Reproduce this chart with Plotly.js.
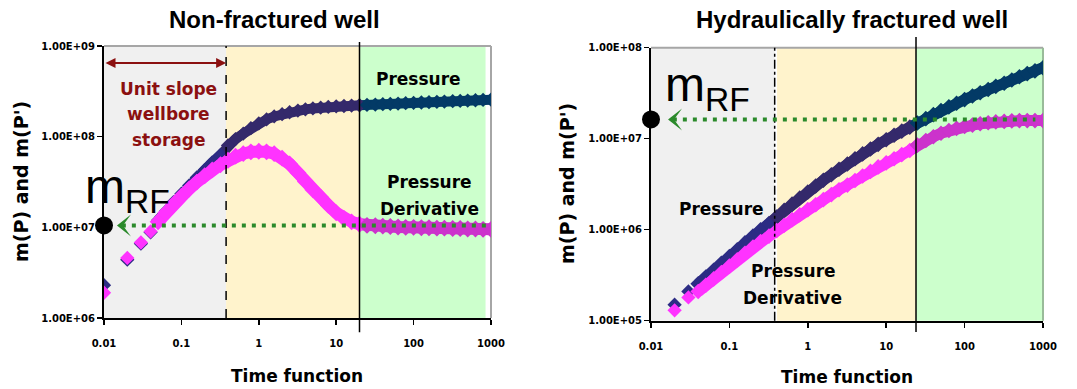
<!DOCTYPE html>
<html>
<head>
<meta charset="utf-8">
<script src="https://cdn.plot.ly/plotly-3.0.1.min.js"></script>
<style>
  html, body { margin: 0; padding: 0; background: #fff; }
  #chart { width: 1077px; height: 389px; }
</style>
</head>
<body>
<div id="chart"></div>
<script>
// ---- Axis ticks ----
const timeTicks = [0.01, 0.1, 1, 10, 100, 1000];
const timeTickText = ['0.01', '0.1', '1', '10', '100', '1000'];
const nfTicks = [1e6, 1e7, 1e8, 1e9];
const nfTickText = ['1.00E+06', '1.00E+07', '1.00E+08', '1.00E+09'];
const hfTicks = [1e5, 1e6, 1e7, 1e8];
const hfTickText = ['1.00E+05', '1.00E+06', '1.00E+07', '1.00E+08'];

// ---- Non-fractured well ----
const nfTimeEarly = [0.01, 0.02, 0.03, 0.04];
const nfPressureEarly = [2.3e6, 4.4e6, 6.6e6, 8.8e6];
const nfDerivativeEarly = [1.9e6, 4.6e6, 6.8e6, 9.0e6];
const nfTime = [0.05, 0.063, 0.079, 0.1, 0.126, 0.158, 0.2, 0.25, 0.32, 0.4, 0.5, 0.63, 0.79,
  1, 1.26, 1.58, 2, 2.5, 3.2, 4, 5, 6.3, 7.9,
  10, 12.6, 15.8, 20, 25, 32, 40, 50, 63, 79,
  100, 126, 158, 200, 250, 320, 400, 500, 630, 790, 1000];
const nfPressure = [1.2e7, 1.5e7, 1.9e7, 2.35e7, 2.9e7, 3.55e7, 4.3e7, 5.2e7, 6.3e7, 8.0e7, 9.4e7, 1.08e8, 1.24e8,
  1.4e8, 1.55e8, 1.67e8, 1.77e8, 1.86e8, 1.94e8, 2.0e8, 2.05e8, 2.09e8, 2.13e8,
  2.16e8, 2.18e8, 2.2e8, 2.22e8, 2.24e8, 2.26e8, 2.28e8, 2.3e8, 2.32e8, 2.34e8,
  2.36e8, 2.38e8, 2.4e8, 2.42e8, 2.44e8, 2.46e8, 2.48e8, 2.5e8, 2.52e8, 2.54e8, 2.56e8];
const nfDerivative = [1.15e7, 1.45e7, 1.8e7, 2.2e7, 2.65e7, 3.15e7, 3.7e7, 4.3e7, 4.9e7, 5.5e7, 6.1e7, 6.5e7, 6.8e7,
  6.9e7, 6.8e7, 6.5e7, 5.8e7, 5.0e7, 4.0e7, 3.2e7, 2.6e7, 2.15e7, 1.75e7,
  1.45e7, 1.25e7, 1.15e7, 1.08e7, 1.05e7, 1.04e7, 1.03e7, 1.02e7, 1.01e7, 1.0e7,
  1.0e7, 9.9e6, 9.9e6, 9.8e6, 9.8e6, 9.7e6, 9.7e6, 9.6e6, 9.6e6, 9.5e6, 9.5e6];
const nfMrf = 1.05e7;
const nfStorageEnd = 0.378;
const nfRadialStart = 20;

// ---- Hydraulically fractured well ----
const hfTimeEarly = [0.02, 0.03];
const hfPressureEarly = [1.5e5, 2.1e5];
const hfDerivativeEarly = [1.3e5, 1.8e5];
const hfTime = [0.04, 0.05, 0.063, 0.079, 0.1, 0.126, 0.158, 0.2, 0.25, 0.32, 0.4, 0.5, 0.63, 0.79,
  1, 1.26, 1.58, 2, 2.5, 3.2, 4, 5, 6.3, 7.9,
  10, 12.6, 15.8, 20, 25, 32, 40, 50, 63, 79,
  100, 126, 158, 200, 250, 320, 400, 500, 630, 790, 1000];
const hfPressure = [2.54e5, 3.02e5, 3.59e5, 4.27e5, 5.07e5, 6.03e5, 7.16e5, 8.51e5, 1.0e6, 1.17e6, 1.38e6, 1.63e6, 1.91e6, 2.23e6,
  2.6e6, 3.02e6, 3.49e6, 4.02e6, 4.61e6, 5.27e6, 6.01e6, 6.81e6, 7.71e6, 8.67e6,
  9.73e6, 1.09e7, 1.21e7, 1.34e7, 1.49e7, 1.66e7, 1.84e7, 2.04e7, 2.24e7, 2.45e7,
  2.69e7, 2.95e7, 3.2e7, 3.47e7, 3.76e7, 4.07e7, 4.42e7, 4.79e7, 5.19e7, 5.56e7, 6.03e7];
const hfDerivative = [2.09e5, 2.45e5, 2.88e5, 3.39e5, 3.98e5, 4.68e5, 5.5e5, 6.46e5, 7.41e5, 8.51e5, 9.77e5, 1.12e6, 1.29e6, 1.46e6,
  1.66e6, 1.88e6, 2.14e6, 2.43e6, 2.75e6, 3.09e6, 3.47e6, 3.89e6, 4.37e6, 4.9e6,
  5.43e6, 6.03e6, 6.68e6, 7.41e6, 8.51e6, 9.55e6, 1.05e7, 1.15e7, 1.23e7, 1.3e7,
  1.36e7, 1.41e7, 1.46e7, 1.5e7, 1.53e7, 1.55e7, 1.57e7, 1.58e7, 1.58e7, 1.58e7, 1.58e7];
const hfMrf = 1.63e7;
const hfStorageEnd = 0.378;
const hfRadialStart = 24;

// ---- Page geometry helpers (pixels -> paper fractions) ----
const W = 1077, H = 389;
const px = x => x / W;
const py = y => 1 - y / H;
const lg = Math.log10;

const LABEL_FONT = 'DejaVu Sans';
const ARIAL = 'Liberation Sans, Arial, sans-serif';
const DOT_GREEN = '#2b8a2b';
const PRESSURE_COLORS = ['#2c2c84', '#34296b', '#033a66'];
const DERIV_COLORS = ['#ff33ff', '#ff33ff', '#cc33cc'];

const charts = [
  {
    xa: 'x', ya: 'y', box: {l: 104, r: 491, t: 46, b: 318}, yRange: [6, 9],
    ticks: nfTicks, tickText: nfTickText,
    tEarly: nfTimeEarly, pEarly: nfPressureEarly, dEarly: nfDerivativeEarly,
    t: nfTime, p: nfPressure, d: nfDerivative,
    mrf: nfMrf, storageEnd: nfStorageEnd, radialStart: nfRadialStart,
    yellowFrom: nfStorageEnd, greenTo: 850, storageDash: 'dash',
    lineAbove: 1.015, lineBelow: -0.052, borderRight: '#a6a6a6',
    arrowTip: 0.0147, dotsFrom: 0.017, dotsTo: 950,
    pSize: 11, pWidth: 10, dSize: 13, dWidth: 12
  },
  {
    xa: 'x2', ya: 'y2', box: {l: 651, r: 1043, t: 47.7, b: 320.7}, yRange: [5, 8],
    ticks: hfTicks, tickText: hfTickText,
    tEarly: hfTimeEarly, pEarly: hfPressureEarly, dEarly: hfDerivativeEarly,
    t: hfTime, p: hfPressure, d: hfDerivative,
    mrf: hfMrf, storageEnd: hfStorageEnd, radialStart: hfRadialStart,
    yellowFrom: 0.405, greenTo: 1000, storageDash: 'dashdot',
    lineAbove: 1.039, lineBelow: -0.041, borderRight: '#99bb99',
    arrowTip: 0.0165, dotsFrom: 0.019, dotsTo: 800,
    pSize: 12, pWidth: 11, dSize: 12, dWidth: 11
  }
];

function axisX(c) {
  return {
    type: 'log', range: [-2, 3], domain: [px(c.box.l), px(c.box.r)], anchor: c.ya,
    showline: true, linecolor: '#000', linewidth: 2,
    ticks: 'outside', ticklen: 5, tickwidth: 1.5, tickcolor: '#000',
    tickmode: 'array', tickvals: timeTicks, ticktext: timeTickText,
    tickfont: {family: LABEL_FONT, size: 10, color: '#000', weight: 'bold'},
    ticklabelstandoff: 10,
    showgrid: false, zeroline: false, fixedrange: true
  };
}
function axisY(c) {
  return {
    type: 'log', range: c.yRange, domain: [py(c.box.b), py(c.box.t)], anchor: c.xa,
    showline: true, linecolor: '#000', linewidth: 2,
    ticks: 'outside', ticklen: 5, tickwidth: 1.5, tickcolor: '#000',
    tickmode: 'array', tickvals: c.ticks, ticktext: c.tickText,
    tickfont: {family: LABEL_FONT, size: 10, color: '#000', weight: 'bold'},
    showgrid: false, zeroline: false, fixedrange: true
  };
}

// One series: connecting band per flow region plus a diamond at every reading
function seriesTraces(c, t, v, palette, size, width) {
  const region = x => (x <= c.storageEnd ? 0 : (x <= c.radialStart ? 1 : 2));
  const groups = [0, 1, 2].map(() => ({x: [], y: []}));
  t.forEach((x, i) => {
    const r = region(x);
    if (i > 0 && region(t[i - 1]) !== r && groups[r].x.length === 0) {
      groups[r].x.push(t[i - 1]); groups[r].y.push(v[i - 1]);
    }
    groups[r].x.push(x); groups[r].y.push(v[i]);
  });
  const out = [];
  groups.forEach((g, r) => {
    if (g.x.length > 1) {
      out.push({type: 'scatter', mode: 'lines', x: g.x, y: g.y, xaxis: c.xa, yaxis: c.ya,
        line: {color: palette[r], width: width}, hoverinfo: 'skip', showlegend: false});
    }
  });
  out.push({type: 'scatter', mode: 'markers', x: t, y: v, xaxis: c.xa, yaxis: c.ya,
    marker: {symbol: 'diamond', size: size, color: t.map(x => palette[region(x)]), line: {width: 0}},
    hoverinfo: 'skip', showlegend: false});
  return out;
}

const data = [];
const shapes = [];
const annotations = [];

charts.forEach(c => {
  // early, well separated readings
  data.push({type: 'scatter', mode: 'markers', x: c.tEarly, y: c.pEarly, xaxis: c.xa, yaxis: c.ya,
    marker: {symbol: 'diamond', size: 11, color: PRESSURE_COLORS[0]}, hoverinfo: 'skip', showlegend: false});
  data.push(...seriesTraces(c, c.t, c.p, PRESSURE_COLORS, c.pSize, c.pWidth));
  data.push({type: 'scatter', mode: 'markers', x: c.tEarly, y: c.dEarly, xaxis: c.xa, yaxis: c.ya,
    marker: {symbol: 'diamond', size: 11, color: DERIV_COLORS[0]}, hoverinfo: 'skip', showlegend: false});
  data.push(...seriesTraces(c, c.t, c.d, DERIV_COLORS, c.dSize, c.dWidth));
  // m_RF read on the axis
  data.push({type: 'scatter', mode: 'markers', x: [0.01], y: [c.mrf], xaxis: c.xa, yaxis: c.ya,
    cliponaxis: false, marker: {symbol: 'circle', size: 18, color: '#000'}, hoverinfo: 'skip', showlegend: false});

  const yd = c.ya + ' domain';
  const xd = c.xa + ' domain';
  // flow-regime shading
  shapes.push({type: 'rect', layer: 'below', xref: c.xa, yref: yd, x0: 0.01, x1: c.storageEnd, y0: 0, y1: 1,
    fillcolor: '#f0f0f0', line: {width: 0}});
  shapes.push({type: 'rect', layer: 'below', xref: c.xa, yref: yd, x0: c.yellowFrom, x1: c.radialStart, y0: 0, y1: 1,
    fillcolor: '#fff3cc', line: {width: 0}});
  shapes.push({type: 'rect', layer: 'below', xref: c.xa, yref: yd, x0: c.radialStart, x1: c.greenTo, y0: 0, y1: 1,
    fillcolor: '#ccffcc', line: {width: 0}});
  // plot frame (top and right)
  shapes.push({type: 'line', layer: 'below', xref: xd, yref: yd, x0: 0, x1: 1, y0: 1, y1: 1,
    line: {color: '#a6a6a6', width: 2}});
  shapes.push({type: 'line', layer: 'below', xref: xd, yref: yd, x0: 1, x1: 1, y0: 0, y1: 1,
    line: {color: c.borderRight, width: 2}});
  // end of wellbore storage and start of radial flow
  shapes.push({type: 'line', layer: 'above', xref: c.xa, yref: yd, x0: c.storageEnd, x1: c.storageEnd, y0: 0, y1: 1,
    line: {color: '#000', width: 1.5, dash: c.storageDash}});
  shapes.push({type: 'line', layer: 'above', xref: c.xa, yref: yd, x0: c.radialStart, x1: c.radialStart,
    y0: c.lineBelow, y1: c.lineAbove, line: {color: '#000', width: 1.5}});
  // m_RF level: dotted guide and arrow head
  shapes.push({type: 'line', layer: 'above', xref: c.xa, yref: c.ya, x0: c.dotsFrom, x1: c.dotsTo, y0: c.mrf, y1: c.mrf,
    line: {color: DOT_GREEN, width: 4, dash: '4px,6px'}});
  shapes.push({type: 'path', layer: 'above', xref: c.xa, yref: c.ya, xsizemode: 'pixel', ysizemode: 'pixel',
    xanchor: c.arrowTip, yanchor: c.mrf, path: 'M0,0L14,11L6,0L14,-11Z', fillcolor: DOT_GREEN, line: {width: 0}});
});

function label(text, x, y, opts) {
  return Object.assign({
    text: text, xref: 'paper', yref: 'paper', x: px(x), y: py(y), xanchor: 'center', yanchor: 'middle',
    showarrow: false, font: {family: LABEL_FONT, size: 17, color: '#000', weight: 'bold'}
  }, opts || {});
}

const titleFont = {family: ARIAL, size: 24, color: '#000', weight: 'bold'};
const axisTitleFont = {family: LABEL_FONT, size: 19, color: '#000', weight: 'bold'};
annotations.push(
  label('Non-fractured well', 274.5, 20, {font: titleFont}),
  label('Hydraulically fractured well', 852, 20, {font: titleFont}),
  label('Time function', 297, 376),
  label('Time function', 847, 377),
  label("m(P) and m(P')", 21, 182, {textangle: -90, font: axisTitleFont}),
  label("m(P) and m(P')", 567, 184, {textangle: -90, font: axisTitleFont}),
  label('Pressure', 419, 79),
  label('Pressure', 429, 182),
  label('Derivative', 429, 209),
  label('Pressure', 721, 209),
  label('Pressure', 793, 271),
  label('Derivative', 792, 298),
  label('m<sub>RF</sub>', 127, 190, {font: {family: ARIAL, size: 48, color: '#000'}}),
  label('m<sub>RF</sub>', 707, 88, {font: {family: ARIAL, size: 48, color: '#000'}})
);
const storageRed = '#8b1010';
['Unit slope', 'wellbore', 'storage'].forEach((line, i) => {
  annotations.push(label(line, 168, 89 + i * 25.5, {font: {family: LABEL_FONT, size: 17, color: storageRed, weight: 'bold'}}));
});
// wellbore storage duration arrow
annotations.push({
  text: '', xref: 'x', yref: 'paper', x: lg(nfStorageEnd), y: py(63),
  axref: 'x', ayref: 'pixel', ax: lg(0.01), ay: 0,
  showarrow: true, arrowside: 'end+start', arrowhead: 2, startarrowhead: 2,
  arrowsize: 1, startarrowsize: 1, arrowwidth: 2, arrowcolor: storageRed
});

const layout = {
  width: W, height: H, margin: {l: 0, r: 0, t: 0, b: 0},
  paper_bgcolor: '#fff', plot_bgcolor: 'rgba(0,0,0,0)', showlegend: false,
  font: {family: LABEL_FONT, size: 10, color: '#000'},
  xaxis: axisX(charts[0]), yaxis: axisY(charts[0]),
  xaxis2: axisX(charts[1]), yaxis2: axisY(charts[1]),
  shapes: shapes, annotations: annotations
};

Plotly.newPlot('chart', data, layout, {staticPlot: true, displayModeBar: false});
</script>
</body>
</html>
